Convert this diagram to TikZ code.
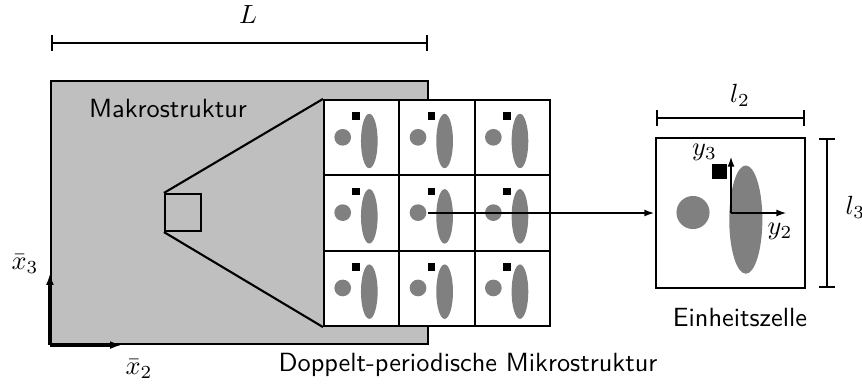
\documentclass[tikz,border=0pt]{standalone}
\usetikzlibrary{arrows.meta,fit}
\definecolor{macrogray}{gray}{0.75}
\definecolor{incgray}{gray}{0.5}
\begin{document}
\begin{tikzpicture}[x=0.38pt,y=-0.38pt,
  line/.style={line width=0.8pt},
  box/.style={draw,line width=0.8pt,inner sep=0pt},
  dimline/.style={line width=0.8pt,{Bar[width=6pt]}-{Bar[width=6pt]}},
  axis/.style={line width=1.2pt,-{Latex[length=4.5pt,width=3pt]}},
  celaxis/.style={line width=0.8pt,-{Latex[length=4pt,width=2.6pt]}},
  inc/.style={fill=incgray},
  label/.style={font=\sffamily,anchor=base},
  every node/.append style={inner sep=1pt}]
\useasboundingbox (0,0) rectangle (862,383);

% macro structure
\node[box,fill=macrogray,fit={(51,81)(428,344)}] (macro) {};
\node[label] (makro) at (168,117.7) {Makrostruktur};

% overall length
\coordinate (La) at (51,43);
\coordinate (Lb) at (428,43);
\draw[dimline] (La) -- (Lb);
\node (Llab) at (248,15) {$L$};

% global axes
\draw[axis] (macro.south west) -- ++(0,-72) coordinate (x3end);
\draw[axis] (macro.south west) -- ++(72,0) coordinate (x2end);
\node (x3lab) at (25,264) {$\bar{x}_3$};
\node (x2lab) at (139,369) {$\bar{x}_2$};

% magnified region
\node[box,fit={(165,194)(201,231)}] (sq) {};

% periodic arrangement of cells
\foreach \i in {0,1,2}{
  \foreach \j in {0,1,2}{
    \begin{scope}[shift={({324+75.33*\i},{100+75.33*\j})}]
      \node[box,fill=white,fit={(0,0)(75.33,75.33)}] (c\i\j) {};
      \fill[inc] (18.7,37.3) circle[radius=3.17pt];
      \fill[inc] (45.3,41) ellipse[x radius=3.17pt,y radius=10.34pt];
      \fill (28.3,12.3) rectangle (36,20);
    \end{scope}
  }
}
\draw[line] (sq.north west) -- (c00.north west);
\draw[line] (sq.south west) -- (c02.south west);
\node[label] (mikro) at (468,371.7) {Doppelt-periodische Mikrostruktur};

% unit cell
\node[box,fit={(656,138.3)(805,287.7)}] (unit) {};
\fill[inc] (693,212.5) circle[radius=6.29pt];
\fill[inc] (745.8,219.6) ellipse[x radius=6.29pt,y radius=20.57pt];
\fill (712,164) rectangle (727,179);
\coordinate (o) at (731,213);
\draw[celaxis] (o) -- (731,156) coordinate (y3end);
\draw[celaxis] (o) -- (787,213) coordinate (y2end);
\node (y3lab) at (704.5,152) {$y_3$};
\node (y2lab) at (780,231) {$y_2$};
\node[label] (einh) at (740,326) {Einheitszelle};

% link from the micro structure to the unit cell
\coordinate (src) at (428.3,213);
\draw[line,-{Latex[length=4pt,width=2.6pt]}] (src) -- (unit.west);

% unit cell dimensions
\coordinate (l2a) at (656,118.3);
\coordinate (l2b) at (805,118.3);
\draw[dimline] (l2a) -- (l2b);
\node (l2lab) at (740,95) {$l_2$};
\coordinate (l3a) at (826.7,138.3);
\coordinate (l3b) at (826.7,287.7);
\draw[dimline] (l3a) -- (l3b);
\node[anchor=west,inner sep=0pt] (l3lab) at (845,207) {$l_3$};
\end{tikzpicture}
\end{document}
